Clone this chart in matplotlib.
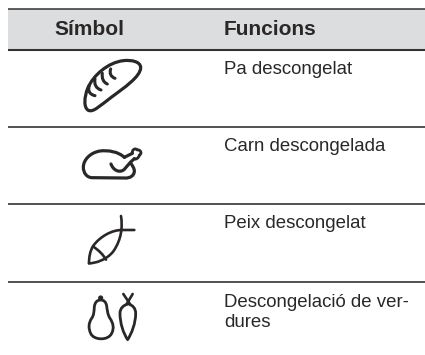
# ---------------------- IMPORTS
import matplotlib
import matplotlib.pyplot as plt
from matplotlib.path import Path
from matplotlib.patches import PathPatch, Circle

matplotlib.use('Agg')

# ---------------------- TABLE CONTENT

headers = ["Símbol", "Funcions"]
functions = ["Pa descongelat", "Carn descongelada", "Peix descongelat", "Descongelació de ver-\ndures"]

# ---------------------- LAYOUT (pixels)

W, H = 425, 355
rules = [9, 50, 127, 204, 282]
text_base = [74, 151, 228, 307]
ink = "#2a2728"

fig = plt.figure(figsize=(W / 100, H / 100), dpi=100)
ax = fig.add_axes([0, 0, 1, 1])
ax.set_xlim(0, W)
ax.set_ylim(H, 0)
ax.axis('off')
plt.rcParams['font.family'] = ['Liberation Sans', 'DejaVu Sans']

ax.fill_between([8, W], rules[0], rules[1], color="#dcddde", lw=0, zorder=0)
for y, lw in zip(rules, [1.1, 1.5, 1.2, 1.2, 1.2]):
    ax.plot([8, W], [y, y], color="#333333", lw=lw, solid_capstyle='butt')

ax.text(54, 35, headers[0], fontsize=15, fontweight='bold', color=ink, va='baseline')
ax.text(224, 35, headers[1], fontsize=15, fontweight='bold', color=ink, va='baseline')

for label, y in zip(functions, text_base):
    for i, line in enumerate(label.split("\n")):
        ax.text(224, y + i * 20, line, fontsize=13.4, color=ink, va='baseline')

# ---------------------- ICONS

def curve(start, segments, ox, oy, lw, closed=False):
    verts = [start]
    codes = [Path.MOVETO]
    for seg in segments:
        verts += seg
        codes += [Path.LINETO] if len(seg) == 1 else [Path.CURVE4] * 3
    verts = [(ox + x / 3, oy + y / 3) for x, y in verts]
    if closed:
        verts.append(verts[0])
        codes.append(Path.CLOSEPOLY)
    ax.add_patch(PathPatch(Path(verts, codes), fc='none', ec=ink, lw=lw,
                           capstyle='round', joinstyle='round'))

# Bread
ox, oy = 75, 55
curve((197, 38), [[(197, 20), (170, 14), (145, 17)],
                  [(100, 22), (55, 60), (38, 100)],
                  [(28, 125), (25, 158), (40, 166)],
                  [(55, 173), (75, 152), (110, 126)],
                  [(145, 100), (197, 65), (197, 38)]], ox, oy, 2.3, closed=True)
curve((107, 42), [[(103, 55), (107, 65), (120, 70)]], ox, oy, 2.2)
curve((82, 55), [[(80, 70), (85, 82), (97, 87)]], ox, oy, 2.2)
curve((60, 72), [[(57, 88), (63, 100), (78, 105)]], ox, oy, 2.2)
curve((43, 92), [[(38, 105), (42, 118), (60, 122)]], ox, oy, 2.2)

# Chicken
ox, oy = 75, 140
curve((148, 52), [[(130, 35), (100, 30), (75, 33)],
                  [(45, 38), (25, 60), (25, 82)],
                  [(25, 98), (35, 113), (52, 113)],
                  [(150, 114)],
                  [(165, 115), (178, 107), (178, 93)],
                  [(178, 85), (172, 76), (166, 68)]], ox, oy, 2.3)
curve((108, 72), [[(115, 92), (135, 100), (148, 88)],
                  [(155, 80), (162, 70), (178, 56)]], ox, oy, 2.3)
curve((148, 52), [[(172, 40)]], ox, oy, 2.3)
curve((172, 40), [[(170, 30), (180, 22), (187, 30)],
                  [(198, 28), (202, 42), (193, 45)],
                  [(192, 56), (178, 60), (178, 56)]], ox, oy, 2.0)

# Fish
ox, oy = 80, 210
curve((123, 18), [[(128, 50), (125, 88), (100, 124)],
                  [(80, 150), (45, 160), (27, 160)]], ox, oy, 1.9)
curve((163, 60), [[(125, 60)],
                  [(95, 60), (60, 80), (40, 107)],
                  [(30, 122), (27, 142), (27, 160)]], ox, oy, 1.9)
curve((40, 110), [[(55, 120), (70, 134), (78, 149)]], ox, oy, 1.9)

# Pear and carrot
ox, oy = 80, 290
curve((62, 30), [[(50, 30), (45, 38), (43, 50)],
                 [(42, 65), (42, 75), (35, 85)],
                 [(25, 100), (25, 115), (32, 130)],
                 [(40, 151), (85, 153), (95, 130)],
                 [(103, 115), (100, 100), (90, 85)],
                 [(82, 72), (82, 60), (80, 48)],
                 [(78, 36), (72, 30), (62, 30)]], ox, oy, 2.0, closed=True)
ax.add_patch(Circle((ox + 62 / 3, oy + 24 / 3), 2.6, fc=ink, ec='none'))
curve((145, 42), [[(130, 45), (120, 55), (120, 70)],
                  [(120, 100), (130, 130), (143, 149)],
                  [(155, 130), (167, 100), (167, 70)],
                  [(167, 55), (158, 45), (145, 42)]], ox, oy, 2.0, closed=True)
curve((130, 12), [[(150, 42)]], ox, oy, 1.9)
curve((158, 12), [[(140, 42)]], ox, oy, 1.9)

fig.savefig("out.png", dpi=100)
plt.close()
